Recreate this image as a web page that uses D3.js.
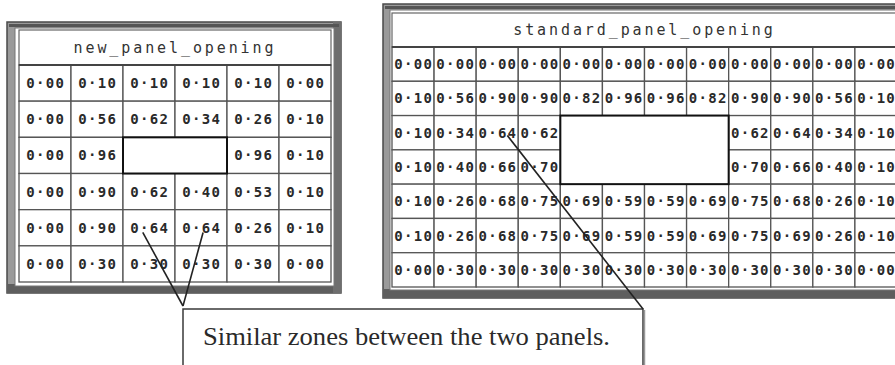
<!DOCTYPE html>
<html><head><meta charset="utf-8">
<script src="https://cdn.jsdelivr.net/npm/d3@7"></script>
<style>body{margin:0;background:#fff}</style>
</head><body><svg id="c" width="895" height="365"></svg>
<script>
const leftTitle = "new_panel_opening";
const rightTitle = "standard_panel_opening";
const leftValues = [
 [0.00,0.10,0.10,0.10,0.10,0.00],
 [0.00,0.56,0.62,0.34,0.26,0.10],
 [0.00,0.96,null,null,0.96,0.10],
 [0.00,0.90,0.62,0.40,0.53,0.10],
 [0.00,0.90,0.64,0.64,0.26,0.10],
 [0.00,0.30,0.30,0.30,0.30,0.00]
];
const rightValues = [
 [0.00,0.00,0.00,0.00,0.00,0.00,0.00,0.00,0.00,0.00,0.00,0.00],
 [0.10,0.56,0.90,0.90,0.82,0.96,0.96,0.82,0.90,0.90,0.56,0.10],
 [0.10,0.34,0.64,0.62,null,null,null,null,0.62,0.64,0.34,0.10],
 [0.10,0.40,0.66,0.70,null,null,null,null,0.70,0.66,0.40,0.10],
 [0.10,0.26,0.68,0.75,0.69,0.59,0.59,0.69,0.75,0.68,0.26,0.10],
 [0.10,0.26,0.68,0.75,0.69,0.59,0.59,0.69,0.75,0.69,0.26,0.10],
 [0.00,0.30,0.30,0.30,0.30,0.30,0.30,0.30,0.30,0.30,0.30,0.00]
];
const leftBlank = [2,2,2,3];   // row0,row1,col0,col1
const rightBlank = [2,3,4,7];
const leftAnchors = [[4,2,0.38,0.63],[4,3,0.54,0.63]];
const rightAnchors = [[2,2,0.74,0.58]];
const calloutText = "Similar zones between the two panels.";

const svg = d3.select("#c");
svg.append("rect").attr("width",895).attr("height",365).attr("fill","#fff");
const fmt = v => d3.format(".2f")(v).replace(".", "\u00b7");

function panel(cfg){
  const g = svg.append("g");
  const o = cfg.outer;
  // bevel frame
  g.append("rect").attr("x",o[0]).attr("y",o[1]).attr("width",o[2]-o[0]).attr("height",o[3]-o[1])
    .attr("fill","#9a9a9a").attr("stroke","#4a4a4a").attr("stroke-width",1.5);
  g.append("rect").attr("x",o[0]).attr("y",o[3]-9).attr("width",o[2]-o[0]).attr("height",9).attr("fill","#5e5e5e");
  g.append("rect").attr("x",o[2]-8).attr("y",o[1]).attr("width",8).attr("height",o[3]-o[1]).attr("fill","#6e6e6e");
  g.append("rect").attr("x",o[0]+2).attr("y",o[1]+2).attr("width",o[2]-o[0]-4).attr("height",3).attr("fill","#555");
  const inn = cfg.inner;
  g.append("rect").attr("x",inn[0]).attr("y",inn[1]).attr("width",inn[2]-inn[0]).attr("height",inn[3]-inn[1])
    .attr("fill","#fff").attr("stroke","#777").attr("stroke-width",1);

  const vals = cfg.values;
  const nr = vals.length, nc = vals[0].length;
  const x = d3.scaleBand().domain(d3.range(nc)).range(cfg.xr).paddingInner(0).paddingOuter(0);
  const y = d3.scaleBand().domain(d3.range(nr)).range(cfg.yr).paddingInner(0).paddingOuter(0);
  // title box
  g.append("rect").attr("x",cfg.xr[0]).attr("y",cfg.titleTop).attr("width",cfg.xr[1]-cfg.xr[0])
    .attr("height",cfg.yr[0]-cfg.titleTop).attr("fill","#fff").attr("stroke","#666").attr("stroke-width",1.2);
  g.append("text").attr("x",(cfg.xr[0]+Math.min(cfg.xr[1],cfg.clipR))/2 + (cfg.titleShift||0))
    .attr("y",(cfg.titleTop+cfg.yr[0])/2+5)
    .attr("text-anchor","middle").attr("font-family","DejaVu Sans Mono").attr("font-size",15)
    .attr("letter-spacing",2.9).attr("fill","#333").text(cfg.title);

  const cells = [];
  vals.forEach((row,r)=>row.forEach((v,c)=>{ if(v!==null) cells.push({r,c,v}); }));
  g.selectAll("rect.cell").data(cells).join("rect").attr("class","cell")
    .attr("x",d=>x(d.c)).attr("y",d=>y(d.r)).attr("width",x.bandwidth()).attr("height",y.bandwidth())
    .attr("fill","#fff").attr("stroke","#555").attr("stroke-width",1.3);
  g.selectAll("text.cell").data(cells).join("text").attr("class","cell")
    .attr("x",d=>x(d.c)+x.bandwidth()/2+0.7).attr("y",d=>y(d.r)+y.bandwidth()/2+5)
    .attr("text-anchor","middle").attr("font-family","DejaVu Sans Mono").attr("font-weight","bold")
    .attr("font-size",14).attr("letter-spacing",1.3).attr("fill","#2a2a2a").text(d=>fmt(d.v));
  // thicker line under title
  g.append("line").attr("x1",cfg.xr[0]).attr("x2",cfg.xr[1]).attr("y1",cfg.yr[0]).attr("y2",cfg.yr[0])
    .attr("stroke","#444").attr("stroke-width",2);
  const b = cfg.blank;
  g.append("rect").attr("x",x(b[2])).attr("y",y(b[0]))
    .attr("width",x(b[3])+x.bandwidth()-x(b[2])).attr("height",y(b[1])+y.bandwidth()-y(b[0]))
    .attr("fill","#fff").attr("stroke","#111").attr("stroke-width",2);
  return cfg.anchors.map(a=>[x(a[1])+a[2]*x.bandwidth(), y(a[0])+a[3]*y.bandwidth()]);
}

const la = panel({outer:[7,22,341,293], inner:[15,28,334,286], xr:[19,331], yr:[65,282], titleTop:30,
  values:leftValues, blank:leftBlank, title:leftTitle, anchors:leftAnchors, clipR:9999});
const ra = panel({outer:[383,4,905,298], inner:[390,10,900,290], xr:[392,897], yr:[47,287], titleTop:13,
  values:rightValues, blank:rightBlank, title:rightTitle, anchors:rightAnchors, clipR:9999});

// callout box
svg.append("rect").attr("x",183).attr("y",309).attr("width",460).attr("height",70)
  .attr("fill","#fff").attr("stroke","#3a3a3a").attr("stroke-width",1.5);
svg.append("line").attr("x1",644.5).attr("x2",644.5).attr("y1",310).attr("y2",365).attr("stroke","#999").attr("stroke-width",1.5);
svg.append("text").attr("x",203).attr("y",345).attr("font-family","Liberation Serif").attr("font-size",25)
  .attr("textLength",407).attr("lengthAdjust","spacingAndGlyphs").attr("fill","#2a2a2a").text(calloutText);

// pointer lines
const lineG = svg.append("g").attr("stroke","#222").attr("stroke-width",1.6).attr("fill","none");
la.forEach(p=>lineG.append("line").attr("x1",p[0]).attr("y1",p[1]).attr("x2",183).attr("y2",306));
ra.forEach(p=>lineG.append("line").attr("x1",p[0]).attr("y1",p[1]).attr("x2",643).attr("y2",309));
</script></body></html>
